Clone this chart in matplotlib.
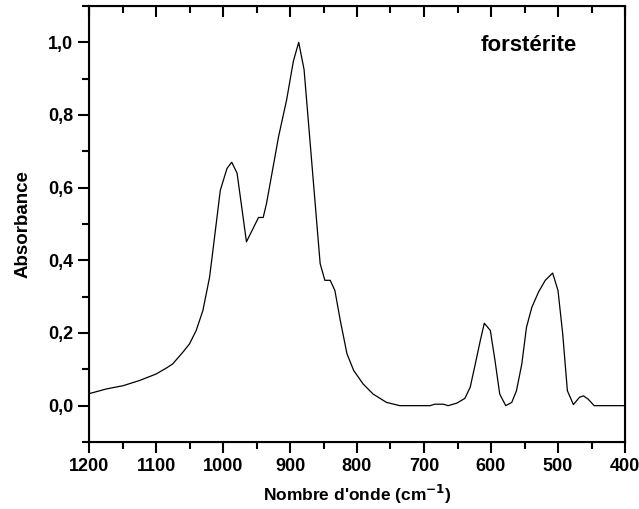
import matplotlib.pyplot as plt
from matplotlib.ticker import MultipleLocator, FuncFormatter

plt.rcParams['font.family'] = ['Liberation Sans', 'DejaVu Sans']
plt.rcParams['font.weight'] = 'bold'

# spectre IR de la forstérite
nombre_onde = [1200, 1174, 1149, 1125, 1100, 1085, 1075, 1060, 1050, 1040, 1030, 1020, 1015,
               1004, 994, 987, 979, 965, 947, 940, 935, 917, 905, 895, 887, 879,
               855, 848, 840, 833, 825, 815, 805, 791, 776, 756, 736, 691, 684,
               671, 664, 651, 639, 631, 624, 616, 610, 601, 594, 587, 578, 569,
               562, 554, 547, 539, 529, 519, 508, 500, 493, 486, 477, 468, 462,
               455, 446, 400]
absorbance = [0.033, 0.046, 0.055, 0.069, 0.087, 0.103, 0.115, 0.147, 0.170, 0.207, 0.262, 0.354, 0.428,
              0.593, 0.653, 0.670, 0.640, 0.451, 0.518, 0.518, 0.557, 0.741, 0.842, 0.948, 1.000, 0.925,
              0.391, 0.345, 0.345, 0.317, 0.235, 0.143, 0.097, 0.060, 0.032, 0.009, 0.0, 0.0, 0.004,
              0.004, 0.0, 0.007, 0.020, 0.051, 0.110, 0.179, 0.227, 0.207, 0.124, 0.032, 0.0, 0.009,
              0.041, 0.115, 0.216, 0.271, 0.313, 0.345, 0.365, 0.317, 0.198, 0.041, 0.003, 0.023, 0.027,
              0.018, 0.0, 0.0]

fig = plt.figure(figsize=(6.39, 5.09), dpi=100)
ax = fig.add_axes([89 / 639, 1 - 442 / 509, 536 / 639, 436 / 509])
ax.plot(nombre_onde, absorbance, color='black', lw=0.9)

ax.set_xlim(1200, 400)
ax.set_ylim(-0.1, 1.1)
ax.xaxis.set_major_locator(MultipleLocator(100))
ax.xaxis.set_minor_locator(MultipleLocator(50))
ax.yaxis.set_major_locator(MultipleLocator(0.2))
ax.yaxis.set_minor_locator(MultipleLocator(0.1))
ax.yaxis.set_major_formatter(FuncFormatter(lambda v, p: f"{v:.1f}".replace('.', ',').replace('-0,0', '0,0')))

for s in ax.spines.values():
    s.set_linewidth(1.5)
ax.tick_params(axis='both', which='both', width=1.5, labelsize=13, direction='out')
ax.tick_params(which='major', length=8)
ax.tick_params(which='minor', length=5)
for lab in ax.get_xticklabels() + ax.get_yticklabels():
    lab.set_fontweight('bold')

# graduations du haut vers l'intérieur
topax = ax.twiny()
topax.set_xlim(ax.get_xlim())
topax.xaxis.set_major_locator(MultipleLocator(100))
topax.xaxis.set_minor_locator(MultipleLocator(50))
topax.tick_params(axis='x', which='both', direction='in', width=1.5, labeltop=False)
topax.tick_params(which='major', length=8)
topax.tick_params(which='minor', length=5)

ax.set_xlabel("Nombre d'onde (cm$^{\\mathbf{-1}}$)", fontsize=12.5, fontweight='bold', labelpad=6)
ax.set_ylabel("Absorbance", fontsize=13.5, fontweight='bold', labelpad=12)
ax.text(0.82, 0.91, "forstérite", transform=ax.transAxes, fontsize=16,
        fontweight='bold', ha='center', va='center')

fig.savefig('out.png', dpi=100)
